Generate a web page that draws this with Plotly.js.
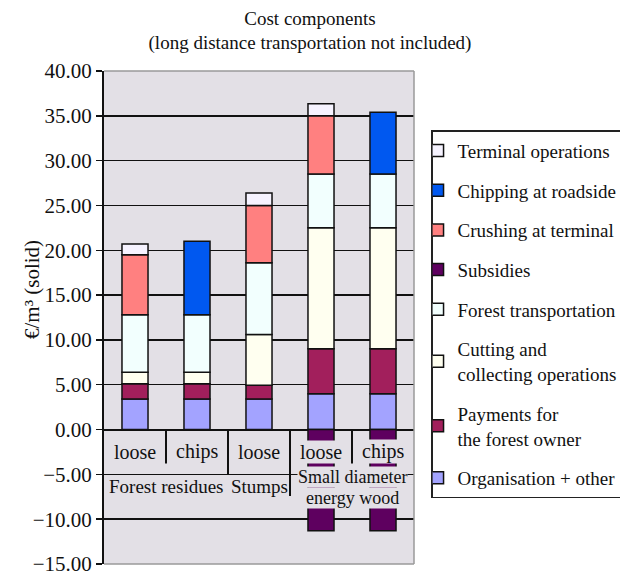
<!DOCTYPE html>
<html>
<head>
<meta charset="utf-8">
<script src="https://cdn.plot.ly/plotly-3.0.1.min.js"></script>
<style>
  html, body { margin: 0; padding: 0; background: #ffffff; }
  #chart { width: 620px; height: 576px; }
</style>
</head>
<body>
<div id="chart"></div>
<script>
// Assortments (two-level category labels)
const groups = ['Forest residues', 'Forest residues', 'Stumps',
                'Small diameter<br>energy wood', 'Small diameter<br>energy wood'];
const subs = ['loose', 'chips', 'loose', 'loose', 'chips'];

// Cost components, €/m³ (solid); null = component not present
const organisation   = [3.4, 3.4, 3.4, 4.0, 4.0];
const payments       = [1.7, 1.7, 1.55, 5.0, 5.0];
const cutting        = [1.3, 1.3, 5.65, 13.5, 13.5];
const forestTransp   = [6.4, 6.4, 8.0, 6.0, 6.0];
const subsidies      = [null, null, null, -11.3, -11.3];
const crushing       = [6.7, null, 6.4, 6.5, null];
const chipping       = [null, 8.2, null, null, 6.9];
const terminal       = [1.2, null, 1.4, 1.35, null];

const yTicks = [-15, -10, -5, 0, 5, 10, 15, 20, 25, 30, 35, 40];

const SERIF = 'Liberation Serif, Times New Roman, serif';
const PLOT_BG = '#E3E0E6';
const INK = '#111111';

const xs = subs.map((_, i) => i);

function series(name, values, color) {
  return {
    type: 'bar',
    name: name,
    legendgroup: name,
    x: xs,
    y: values,
    width: 0.42,
    marker: { color: color, line: { color: INK, width: 1.5 } },
    hoverinfo: 'name+y'
  };
}

// stacking order from the base upwards
const traces = [
  series('Organisation + other', organisation, '#A3A3FF'),
  series('Payments for<br>the forest owner', payments, '#A21F5C'),
  series('Cutting and<br>collecting operations', cutting, '#FFFFF0'),
  series('Forest transportation', forestTransp, '#F2FFFE'),
  series('Subsidies', subsidies, '#5E005F'),
  series('Crushing at terminal', crushing, '#FF8080'),
  series('Chipping at roadside', chipping, '#0058F0'),
  series('Terminal operations', terminal, '#F6F3FF')
];
// legend lists the top of the stack first
traces.forEach((t, i) => { t.legendrank = traces.length - i; });

// category labels drawn as boxed text sitting under the zero line
const annotations = [];
subs.forEach((s, i) => {
  annotations.push({
    x: i, y: -2.45, xref: 'x', yref: 'y', text: s, showarrow: false,
    font: { family: SERIF, size: 20, color: INK },
    bgcolor: PLOT_BG, borderpad: 0
  });
});

// group spans
const spans = [];
groups.forEach((g, i) => {
  const last = spans[spans.length - 1];
  if (last && last.name === g) { last.end = i; }
  else { spans.push({ name: g, start: i, end: i }); }
});
const lineCount = g => g.split('<br>').length;
spans.forEach(sp => {
  const lines = sp.name.split('<br>');
  const n = lines.length;
  lines.forEach((ln, k) => {
    annotations.push({
      x: (sp.start + sp.end) / 2,
      y: -6.4 + (n - 1) * 1.1 - k * 2.3,
      xref: 'x', yref: 'y', text: ln, showarrow: false,
      font: { family: SERIF, size: n > 1 ? 18 : 19, color: INK },
      bgcolor: PLOT_BG, borderpad: 0
    });
  });
});

// rotated axis title
annotations.push({
  x: -0.232, y: 0.556, xref: 'paper', yref: 'paper',
  xanchor: 'center', yanchor: 'middle',
  text: '€/m³ (solid)', textangle: -90, showarrow: false,
  font: { family: SERIF, size: 21, color: INK }
});

// divider lines of the category label table
const shapes = [];
for (let i = 0; i < subs.length - 1; i++) {
  const boundary = groups[i] !== groups[i + 1];
  const depth = Math.max(lineCount(groups[i]), lineCount(groups[i + 1]));
  shapes.push({
    type: 'line', xref: 'x', yref: 'y',
    x0: i + 0.5, x1: i + 0.5, y0: 0,
    y1: boundary ? -5 - 2.4 * (depth - 1) : -3.8,
    line: { color: INK, width: 2 }, layer: 'above'
  });
}
// plot-area frame (top, right, bottom)
[[0, 1, 1, 1], [1, 1, 1, 0], [0, 0, 1, 0]].forEach(([x0, y0, x1, y1]) => {
  shapes.push({
    type: 'line', xref: 'paper', yref: 'paper', x0, y0, x1, y1,
    line: { color: '#9a9a9a', width: 1.5 }, layer: 'above'
  });
});

const layout = {
  width: 620,
  height: 576,
  margin: { l: 104, r: 206, t: 71, b: 12, autoexpand: false },
  paper_bgcolor: '#ffffff',
  plot_bgcolor: PLOT_BG,
  barmode: 'relative',
  showlegend: true,
  title: {
    text: 'Cost components<br>(long distance transportation not included)',
    x: 0.5, xref: 'container', xanchor: 'center',
    y: 0.957, yref: 'container', yanchor: 'top',
    font: { family: SERIF, size: 19, color: INK }
  },
  xaxis: {
    range: [-0.5, 4.5],
    showticklabels: false, showgrid: false, zeroline: false,
    showline: false, ticks: '', fixedrange: true
  },
  yaxis: {
    range: [-15, 40],
    tickvals: yTicks,
    tickformat: '.2f',
    ticklabeloverflow: 'allow',
    showgrid: true, gridcolor: INK, gridwidth: 1.5,
    zeroline: true, zerolinecolor: INK, zerolinewidth: 2,
    showline: true, linecolor: INK, linewidth: 2,
    ticks: 'outside', ticklen: 6, tickwidth: 1.5, tickcolor: INK,
    tickfont: { family: SERIF, size: 21, color: INK },
    fixedrange: true
  },
  legend: {
    x: 1.055, xanchor: 'left', xref: 'paper',
    y: 0.880, yanchor: 'top', yref: 'paper',
    bgcolor: '#ffffff', bordercolor: '#222222', borderwidth: 1.5,
    font: { family: SERIF, size: 19, color: INK },
    traceorder: 'grouped',
    tracegroupgap: 12,
    indentation: -15,
    itemwidth: 30
  },
  annotations: annotations,
  shapes: shapes
};

Plotly.newPlot('chart', traces, layout, { displayModeBar: false, staticPlot: true });
</script>
</body>
</html>
